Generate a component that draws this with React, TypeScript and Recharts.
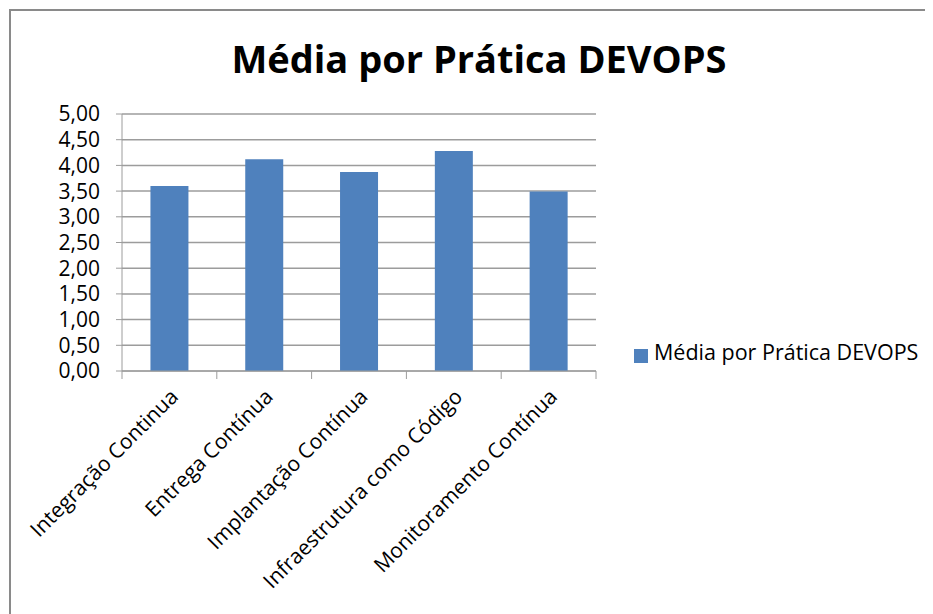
import { Bar, BarChart, CartesianGrid, Legend, XAxis, YAxis } from "recharts";

const categories = [
  "Integração Continua",
  "Entrega Contínua",
  "Implantação Contínua",
  "Infraestrutura como Código",
  "Monitoramento Contínua",
];
const mediaValues = [3.6, 4.12, 3.87, 4.28, 3.49];
const yTicks = [0, 0.5, 1, 1.5, 2, 2.5, 3, 3.5, 4, 4.5, 5];

const SERIES = "Média por Prática DEVOPS";
const FONT = "'Open Sans', sans-serif";
const GRID = "#9c9c9c";

const PLOT_LEFT = 122;
const PLOT_RIGHT = 596;
const PLOT_TOP = 114;
const PLOT_BOTTOM = 371;
const W = 933;
const H = 614;

const data = categories.map((name, i) => ({ name, media: mediaValues[i] }));

function CategoryTick(props: any) {
  const { x, y, payload, index } = props;
  const half = (PLOT_RIGHT - PLOT_LEFT) / categories.length / 2;
  return (
    <g>
      <line x1={x - half} x2={x - half} y1={y} y2={y + 8} stroke={GRID} />
      {index === categories.length - 1 && (
        <line x1={x + half} x2={x + half} y1={y} y2={y + 8} stroke={GRID} />
      )}
      <text
        transform={`translate(${x + 10},${y + 27}) rotate(-45)`}
        textAnchor="end"
        fontSize={21}
        fontFamily={FONT}
        fill="#000"
      >
        {payload.value}
      </text>
    </g>
  );
}

export default function App() {
  return (
    <div
      style={{
        position: "relative",
        width: W,
        height: H,
        margin: "-8px 0 0 -8px",
        background: "#fff",
        fontFamily: FONT,
        overflow: "hidden",
      }}
    >
      <div
        style={{
          position: "absolute",
          left: 9,
          top: 9,
          width: W,
          height: H,
          borderTop: "2px solid #8a8a8a",
          borderLeft: "2px solid #8a8a8a",
        }}
      />
      <div
        style={{
          position: "absolute",
          left: 0,
          width: 958,
          top: 39,
          textAlign: "center",
          fontSize: 38,
          fontWeight: 700,
          lineHeight: "38px",
          color: "#000",
        }}
      >
        Média por Prática DEVOPS
      </div>
      <BarChart
        width={W}
        height={H}
        data={data}
        barCategoryGap="30%"
        margin={{ top: PLOT_TOP, right: W - PLOT_RIGHT, left: 0, bottom: 13 }}
        style={{ position: "absolute", left: 0, top: 0 }}
      >
        <CartesianGrid vertical={false} stroke={GRID} strokeWidth={1.5} />
        <YAxis
          width={PLOT_LEFT}
          domain={[0, 5]}
          ticks={yTicks}
          interval={0}
          tickFormatter={(v: number) => v.toFixed(2).replace(".", ",")}
          tick={{ fill: "#000", fontSize: 21, fontFamily: FONT }}
          tickSize={6}
          tickMargin={16}
          axisLine={{ stroke: GRID }}
          tickLine={{ stroke: GRID }}
        />
        <XAxis
          dataKey="name"
          height={H - PLOT_BOTTOM - 13}
          interval={0}
          tick={<CategoryTick />}
          tickSize={0}
          tickMargin={0}
          tickLine={false}
          axisLine={{ stroke: GRID }}
        />
        <Legend
          layout="horizontal"
          verticalAlign="middle"
          align="center"
          iconType="square"
          iconSize={14}
          wrapperStyle={{ left: 634, top: 338, width: "auto", lineHeight: "28px" }}
          formatter={(value: string) => (
            <span style={{ color: "#000", fontSize: 21.5, marginLeft: 2 }}>{value}</span>
          )}
        />
        <Bar
          dataKey="media"
          name={SERIES}
          fill="#4f81bd"
          isAnimationActive={false}
        />
      </BarChart>
    </div>
  );
}
